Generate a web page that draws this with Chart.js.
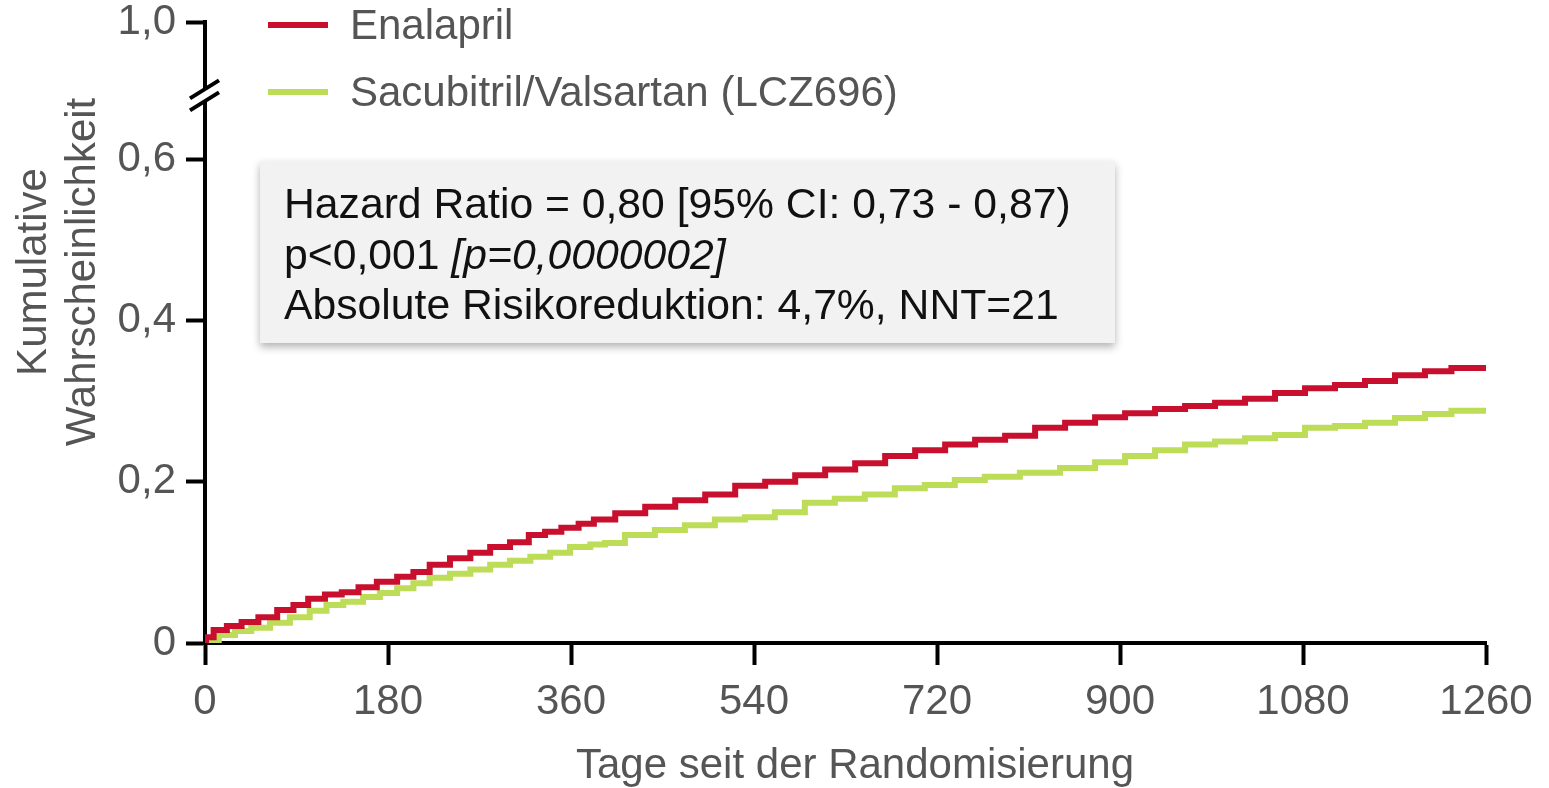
<!DOCTYPE html>
<html>
<head>
<meta charset="utf-8">
<script src="https://cdn.jsdelivr.net/npm/chart.js@4.4.1/dist/chart.umd.min.js"></script>
<style>
  html, body { margin: 0; padding: 0; background: #fff; overflow: hidden; }
</style>
</head>
<body>
<canvas id="km" width="1549" height="788"></canvas>
<script>
// Kaplan-Meier curves (days, cumulative probability)
const enaDays = [0, 2, 15, 28, 44, 61, 81, 93, 110, 126, 143, 159, 179, 199, 211, 231, 251, 271, 290, 310,
  327, 342, 359, 376, 389, 418, 448, 477, 507, 536, 566, 595, 625, 654, 684, 713, 743, 772, 802, 831,
  861, 890, 920, 949, 979, 1008, 1038, 1067, 1097, 1126, 1156, 1185, 1215, 1237, 1260];
const enaProb = [0, 0.007, 0.016, 0.021, 0.026, 0.032, 0.041, 0.047, 0.055, 0.060, 0.063, 0.069, 0.076, 0.082, 0.088, 0.097, 0.105, 0.112, 0.119, 0.125,
  0.134, 0.138, 0.143, 0.148, 0.153, 0.161, 0.169, 0.177, 0.184, 0.195, 0.200, 0.208, 0.215, 0.223, 0.232, 0.239, 0.246, 0.252, 0.257, 0.267,
  0.273, 0.280, 0.285, 0.290, 0.294, 0.298, 0.303, 0.310, 0.316, 0.320, 0.325, 0.332, 0.337, 0.341, 0.341];

const lczDays = [0, 5, 22, 37, 54, 74, 93, 113, 126, 146, 165, 179, 199, 211, 231, 251, 271, 290, 310, 330,
  349, 369, 389, 398, 428, 457, 487, 516, 546, 575, 605, 634, 664, 693, 723, 752, 782, 821, 861, 890,
  920, 949, 979, 1008, 1038, 1067, 1097, 1126, 1156, 1185, 1215, 1237, 1260];
const lczProb = [0, 0.001, 0.010, 0.015, 0.019, 0.025, 0.032, 0.040, 0.047, 0.051, 0.057, 0.062, 0.068, 0.074, 0.081, 0.086, 0.091, 0.097, 0.102, 0.107,
  0.112, 0.119, 0.122, 0.124, 0.134, 0.140, 0.146, 0.153, 0.156, 0.162, 0.174, 0.179, 0.184, 0.192, 0.196, 0.202, 0.206, 0.211, 0.217, 0.224,
  0.232, 0.239, 0.246, 0.250, 0.254, 0.258, 0.267, 0.269, 0.273, 0.279, 0.284, 0.288, 0.288];

const seriesNames = ['Enalapril', 'Sacubitril/Valsartan (LCZ696)'];
const xTicks = [0, 180, 360, 540, 720, 900, 1080, 1260];
const yTicks = [0, 0.2, 0.4, 0.6];
const yTickLabels = ['0', '0,2', '0,4', '0,6'];
const yTopValue = 0.77;     // where the broken axis puts "1,0"
const yTopLabel = '1,0';
const yBreakValue = 0.679;
const xTitle = 'Tage seit der Randomisierung';
const yTitle = ['Kumulative', 'Wahrscheinlichkeit'];
const statLine1 = 'Hazard Ratio = 0,80 [95% CI: 0,73 - 0,87)';
const statLine2a = 'p<0,001 ';
const statLine2b = '[p=0,0000002]';
const statLine3 = 'Absolute Risikoreduktion: 4,7%, NNT=21';

const RED = '#c8102e';
const GREEN = '#bddc58';
const GREY = '#555555';
const FONT = '"Liberation Sans", Arial, sans-serif';

function toPoints(days, prob) {
  const pts = [];
  for (let i = 0; i < days.length; i++) pts.push({ x: days[i], y: prob[i] });
  return pts;
}

const decor = {
  id: 'decor',
  afterDraw(chart) {
    const ctx = chart.ctx;
    const xs = chart.scales.x, ys = chart.scales.y;
    ctx.save();

    // axis break
    const by = ys.getPixelForValue(yBreakValue);
    const ax = xs.left;
    ctx.fillStyle = '#fff';
    ctx.beginPath();
    ctx.moveTo(ax - 14, by + 3);
    ctx.lineTo(ax + 14, by - 15);
    ctx.lineTo(ax + 14, by - 3);
    ctx.lineTo(ax - 14, by + 15);
    ctx.closePath();
    ctx.fill();
    ctx.strokeStyle = '#000';
    ctx.lineWidth = 4;
    ctx.beginPath();
    ctx.moveTo(ax - 15, by + 3); ctx.lineTo(ax + 14, by - 15);
    ctx.moveTo(ax - 15, by + 15); ctx.lineTo(ax + 14, by - 3);
    ctx.stroke();

    // legend
    const legY = [25, 92];
    const legCol = [RED, GREEN];
    ctx.lineWidth = 6;
    ctx.font = '42px ' + FONT;
    ctx.textBaseline = 'middle';
    ctx.textAlign = 'left';
    for (let i = 0; i < 2; i++) {
      ctx.strokeStyle = legCol[i];
      ctx.beginPath();
      ctx.moveTo(268, legY[i]); ctx.lineTo(328, legY[i]);
      ctx.stroke();
      ctx.fillStyle = GREY;
      ctx.fillText(seriesNames[i], 350, legY[i] + 2);
    }

    // statistics box
    ctx.save();
    ctx.shadowColor = 'rgba(0,0,0,0.3)';
    ctx.shadowBlur = 8;
    ctx.shadowOffsetY = 4;
    ctx.fillStyle = '#f2f2f2';
    ctx.fillRect(260, 161, 855, 182);
    ctx.restore();
    ctx.fillStyle = '#111';
    ctx.font = '42.7px ' + FONT;
    ctx.fillText(statLine1, 284, 206);
    ctx.fillText(statLine2a, 284, 257);
    const w = ctx.measureText(statLine2a).width;
    ctx.font = 'italic 42.7px ' + FONT;
    ctx.fillText(statLine2b, 284 + w, 257);
    ctx.font = '42.7px ' + FONT;
    ctx.fillText(statLine3, 284, 307);

    // axis titles
    ctx.fillStyle = GREY;
    ctx.font = '42px ' + FONT;
    ctx.textAlign = 'center';
    ctx.fillText(xTitle, 855, 766);
    ctx.translate(0, 272);
    ctx.rotate(-Math.PI / 2);
    ctx.fillText(yTitle[0], 0, 34);
    ctx.fillText(yTitle[1], 0, 83);
    ctx.restore();
  }
};

const ctx = document.getElementById('km').getContext('2d');
const chart = new Chart(ctx, {
  type: 'line',
  data: {
    datasets: [
      {
        label: seriesNames[0],
        data: toPoints(enaDays, enaProb),
        borderColor: RED,
        borderWidth: 6,
        stepped: 'middle',
        pointRadius: 0,
        fill: false,
      },
      {
        label: seriesNames[1],
        data: toPoints(lczDays, lczProb),
        borderColor: GREEN,
        borderWidth: 6,
        stepped: 'middle',
        pointRadius: 0,
        fill: false,
      },
    ],
  },
  options: {
    responsive: false,
    animation: false,
    layout: { padding: { top: 22, right: 63, left: 0, bottom: 0 } },
    plugins: { legend: { display: false }, tooltip: { enabled: false } },
    scales: {
      x: {
        type: 'linear',
        min: 0,
        max: 1260,
        afterBuildTicks: (s) => { s.ticks = xTicks.map(v => ({ value: v })); },
        afterFit: (s) => { s.height = 145; },
        border: { color: '#000', width: 4 },
        grid: { drawOnChartArea: false, tickLength: 22, tickWidth: 4, tickColor: '#000' },
        ticks: {
          color: GREY,
          font: { family: FONT, size: 42 },
          padding: 12,
          maxRotation: 0,
          callback: (v) => String(v),
        },
      },
      y: {
        min: 0,
        max: yTopValue,
        afterBuildTicks: (s) => { s.ticks = yTicks.concat([yTopValue]).map(v => ({ value: v })); },
        afterFit: (s) => { s.width = 205; s.paddingTop = 0; s.paddingBottom = 0; },
        border: { color: '#000', width: 4 },
        grid: { drawOnChartArea: false, tickLength: 19, tickWidth: 4, tickColor: '#000' },
        ticks: {
          color: GREY,
          font: { family: FONT, size: 42 },
          padding: 10,
          callback: (v) => {
            if (v === yTopValue) return yTopLabel;
            const i = yTicks.indexOf(v);
            return i >= 0 ? yTickLabels[i] : '';
          },
        },
      },
    },
  },
  plugins: [decor],
});
</script>
</body>
</html>
